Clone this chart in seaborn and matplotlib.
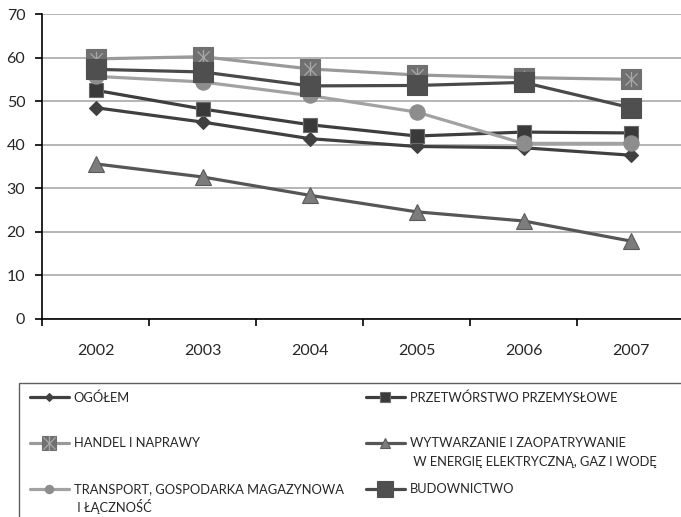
import matplotlib
matplotlib.use("Agg")
import matplotlib.pyplot as plt
from matplotlib.patches import Rectangle
from matplotlib.path import Path
from matplotlib.text import Annotation
from matplotlib.legend_handler import HandlerTuple
import seaborn as sns
import pandas as pd

sns.set_style("white")
plt.rcParams['font.family'] = ['Lato', 'DejaVu Sans']

years = [2002, 2003, 2004, 2005, 2006, 2007]
ogolem = [48.5, 45.2, 41.4, 39.6, 39.3, 37.6]
przetworstwo = [52.5, 48.2, 44.6, 42.0, 42.9, 42.7]
handel = [59.7, 60.2, 57.4, 56.0, 55.4, 55.0]
wytwarzanie = [35.6, 32.6, 28.4, 24.6, 22.5, 17.9]
transport = [55.7, 54.4, 51.3, 47.5, 40.3, 40.3]
budownictwo = [57.3, 56.7, 53.5, 53.6, 54.3, 48.5]

names = ["OGÓŁEM", "PRZETWÓRSTWO PRZEMYSŁOWE", "HANDEL I NAPRAWY",
         "WYTWARZANIE I ZAOPATRYWANIE", "TRANSPORT, GOSPODARKA MAGAZYNOWA",
         "BUDOWNICTWO"]
second_lines = {"WYTWARZANIE I ZAOPATRYWANIE": " W ENERGIĘ ELEKTRYCZNĄ, GAZ I WODĘ",
                "TRANSPORT, GOSPODARKA MAGAZYNOWA": " I ŁĄCZNOŚĆ"}
values = [ogolem, przetworstwo, handel, wytwarzanie, transport, budownictwo]

# line colour, marker, size, face, edge
styles = [
    ("#404040", "D", 7.0, "#404040", "#404040"),
    ("#3e3e3e", "s", 10.5, "#3a3a3a", "#6a6a6a"),
    ("#9a9a9a", "s", 14.5, "#707070", "#707070"),
    ("#565656", "^", 11.0, "#7c7c7c", "#5a5a5a"),
    ("#a2a2a2", "o", 11.0, "#8d8d8d", "#8d8d8d"),
    ("#4a4a4a", "s", 14.5, "#4f4f4f", "#4f4f4f"),
]
legend_ms = [4.0, 6.5, 10.0, 6.5, 6.0, 11.5]

df = pd.DataFrame({"rok": years * len(names),
                   "seria": [n for n in names for _ in years],
                   "wartosc": [v for vals in values for v in vals]})

fig = plt.figure(figsize=(6.81, 5.17), dpi=100)
ax = fig.add_axes([42 / 681, 198 / 517, 642 / 681, 305 / 517])

star = Path([(-1, -1), (1, 1), (-1, 1), (1, -1), (0, -1.25), (0, 1.25)],
            [Path.MOVETO, Path.LINETO, Path.MOVETO, Path.LINETO, Path.MOVETO, Path.LINETO])

handles = {}
for name, (lc, mk, ms, fc, ec) in zip(names, styles):
    sub = df[df["seria"] == name]
    sns.lineplot(data=sub, x="rok", y="wartosc", ax=ax, color=lc, lw=2.3,
                 marker=mk, markersize=ms, markerfacecolor=fc,
                 markeredgecolor=ec, markeredgewidth=0.8, label=name,
                 legend=False)
    line = ax.get_lines()[-1]
    if name == "HANDEL I NAPRAWY":
        sns.lineplot(data=sub, x="rok", y="wartosc", ax=ax, lw=0,
                     marker=star, markersize=11, markerfacecolor="none",
                     markeredgecolor="#a8a8a8", markeredgewidth=0.9,
                     legend=False)
        handles[name] = (line, ax.get_lines()[-1])
    else:
        handles[name] = line

ax.set_xlim(2001.5, 2007.5)
ax.set_ylim(0, 70)
ax.set_yticks(range(0, 71, 10))
ax.set_xticks([y - 0.5 for y in years] + [2007.5])
ax.set_xticklabels([])
ax.set_xticks(years, minor=True)
ax.set_xticklabels([str(y) for y in years], minor=True)
ax.tick_params(axis="x", which="major", length=5, width=1.2, color="black",
               direction="out", bottom=True)
ax.tick_params(axis="x", which="minor", length=0, pad=18, labelsize=11.5)
ax.tick_params(axis="y", length=5, width=1.2, color="black", direction="out",
               left=True, pad=7, labelsize=11.5)
ax.set_xlabel("")
ax.set_ylabel("")
ax.yaxis.grid(True, color="#a9a9a9", lw=1.2)
ax.xaxis.grid(False)
ax.set_axisbelow(True)
for s in ["top", "right"]:
    ax.spines[s].set_visible(False)
for s in ["left", "bottom"]:
    ax.spines[s].set_color("black")
    ax.spines[s].set_linewidth(1.2)

# legend frame
fig.patches.append(Rectangle((19 / 681, -0.1), 1.0, 0.1 + (517 - 383) / 517,
                             transform=fig.transFigure, fill=False,
                             ec="#606060", lw=1.0))

legfs = 9.3
cols = [[names[0], names[2], names[4]], [names[1], names[3], names[5]]]
col_x = [30 / 681, 366 / 681]
for names_col, x0 in zip(cols, col_x):
    hs = [handles[n] for n in names_col]
    leg = fig.legend(hs, names_col, loc="upper left",
                     bbox_to_anchor=(x0, 1 - 391 / 517), frameon=False,
                     fontsize=legfs, handlelength=3.0, handletextpad=0.38,
                     labelspacing=2.62, borderpad=0, borderaxespad=0,
                     handler_map={tuple: HandlerTuple(ndivide=1)})
    for n, h in zip(names_col, leg.legend_handles):
        ms = legend_ms[names.index(n)]
        h.set_markersize(ms)
    for txt in leg.get_texts():
        t = txt.get_text()
        if t in second_lines:
            ann = Annotation(second_lines[t], xy=(0, 0), xycoords=txt,
                             xytext=(0, -13.5), textcoords="offset points",
                             fontsize=legfs, va="bottom", ha="left", zorder=6)
            fig.add_artist(ann)

fig.savefig("out.png", dpi=100)
plt.close(fig)
